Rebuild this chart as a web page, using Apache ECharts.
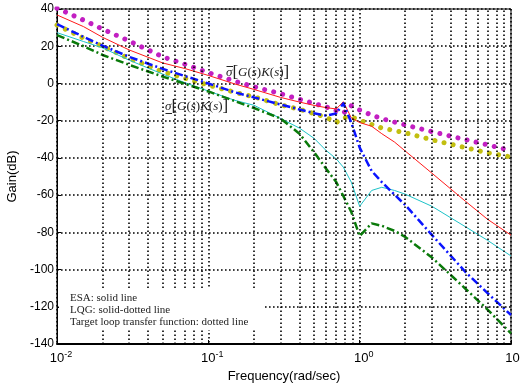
<!DOCTYPE html>
<html>
<head>
<meta charset="utf-8">
<script src="https://cdn.jsdelivr.net/npm/echarts@6/dist/echarts.min.js"></script>
<style>
  html, body { margin: 0; padding: 0; background: #fff; }
  #chart { width: 520px; height: 387px; }
</style>
</head>
<body>
<div id="chart"></div>
<script>
// Frequency points (rad/sec) shared by all singular-value curves
const freq = [0.01, 0.015, 0.02, 0.03, 0.05, 0.07, 0.1, 0.15, 0.2, 0.3, 0.4, 0.5, 0.6, 0.7, 0.78, 0.88, 1.0, 1.2, 1.4, 1.7, 2, 3, 5, 7, 10];

// ESA design: max / min singular values of G(s)K(s), dB
const esaUpper = [36.8, 30.5, 24.8, 18, 11, 8, 4.3, -0.3, -3.2, -7.5, -10, -11.8, -13, -13.7, -9.8, -18.5, -21, -23, -27, -31.5, -36.3, -48.2, -63.3, -73, -81.5];
const esaLower = [27.3, 22.5, 19.1, 12.5, 5, 0.4, -4.1, -9.1, -11.7, -18.8, -24, -29.5, -36, -40.5, -45, -53, -66, -57.5, -55.8, -57.5, -59.5, -66, -77, -84.3, -92.7];

// LQG design: max / min singular values, dB
const lqgUpper = [31.9, 25, 20.3, 14.3, 7.8, 4, 0, -4.8, -7.5, -11.3, -14, -16, -17.3, -16.2, -10.7, -21, -34.5, -47, -53, -59.8, -65.3, -81.4, -101.3, -112.7, -124.4];
const lqgLower = [26, 20, 15.3, 10, 3.7, -0.2, -4.3, -9.5, -13.2, -18.8, -27, -37, -45.8, -53, -60.5, -69, -82, -75.2, -76.5, -79.2, -82.5, -93.5, -110.3, -121.5, -134.3];

// Target loop transfer function: max / min singular values, dB
const targetUpper = [40.4, 34, 29.2, 22.8, 14.3, 10.3, 5.8, 1.2, -1.8, -5.5, -8.5, -10.8, -12.6, -14.6, -16, -12, -14.3, -17, -18.9, -20.8, -22.3, -25.9, -30.2, -33, -36.1];
const targetLower = [31.4, 24.3, 19.9, 13.4, 6.3, 2.8, -0.9, -4.8, -7.2, -11.5, -13.9, -16.2, -18.2, -21, -18.5, -18, -19.8, -22, -24, -25.3, -26.5, -30.3, -34.5, -37.3, -39.5];

// Axis ranges and minor log grid positions
const yTicks = { min: -140, max: 40, step: 20 };
const xRange = { min: 0.01, max: 10 };
const minorGrid = [0.02, 0.03, 0.04, 0.05, 0.06, 0.07, 0.08, 0.09,
                   0.2, 0.3, 0.4, 0.5, 0.6, 0.7, 0.8, 0.9,
                   2, 3, 4, 5, 6, 7, 8, 9];

const legendLines = ['ESA: solid line', 'LQG: solid-dotted line', 'Target loop transfer function: dotted line'];

const pairs = vals => freq.map((f, i) => [f, vals[i]]);

const dotted = { type: [1.6, 2.4], color: '#000', width: 1.6 };
const dashDot = [8, 3, 2, 3];
const dots = [0.01, 9.3];

const chart = echarts.init(document.getElementById('chart'), null, { renderer: 'canvas' });

function lineSeries(name, data, color, width, type, cap) {
  return {
    name, type: 'line', data: pairs(data), showSymbol: false, symbol: 'none',
    smooth: false, clip: true, silent: true, z: 3,
    lineStyle: { color, width, type, cap: cap || 'butt', join: 'round' }
  };
}

const annotationRich = {
  g: { fontFamily: 'Liberation Serif', fontStyle: 'italic', fontSize: 13, fill: '#222' },
  p: { fontFamily: 'Liberation Serif', fontSize: 13, fill: '#222' },
  k: { fontFamily: 'Liberation Serif', fontSize: 17, fill: '#222' }
};
const annotationText = '{g|σ}{k|[}{g|G}{p|(}{g|s}{p|)}{g|K}{p|(}{g|s}{p|)}{k|]}';

chart.setOption({
  animation: false,
  backgroundColor: '#fff',
  grid: {
    left: 57, right: 9, top: 9, bottom: 43,
    containLabel: false, outerBoundsMode: 'none',
    show: true, borderColor: '#000', borderWidth: 1, backgroundColor: 'transparent'
  },
  xAxis: {
    type: 'log', logBase: 10, min: xRange.min, max: xRange.max, interval: 1,
    name: 'Frequency(rad/sec)', nameLocation: 'middle', nameGap: 25,
    nameTextStyle: { fontFamily: 'Liberation Sans', fontSize: 13, color: '#000' },
    axisLine: { show: true, onZero: false, lineStyle: { color: '#000', width: 2 } },
    axisTick: { show: true, inside: true, length: 4, lineStyle: { color: '#000' } },
    splitLine: { show: true, lineStyle: dotted },
    axisLabel: {
      margin: 6, hideOverlap: false, showMinLabel: true, showMaxLabel: true,
      formatter: v => '{b|10}{s|' + Math.round(Math.log10(v)) + '}',
      rich: {
        b: { fontFamily: 'Liberation Sans', fontSize: 13, color: '#000', padding: [0, 0, 0, 8] },
        s: { fontFamily: 'Liberation Sans', fontSize: 9, color: '#000', padding: [0, 0, 8, 0] }
      }
    }
  },
  yAxis: {
    type: 'value', min: yTicks.min, max: yTicks.max, interval: yTicks.step,
    name: 'Gain(dB)', nameLocation: 'middle', nameGap: 37, nameRotate: 90,
    nameTextStyle: { fontFamily: 'Liberation Sans', fontSize: 13, color: '#000' },
    axisLine: { show: true, lineStyle: { color: '#000', width: 1 } },
    axisTick: { show: true, inside: true, length: 4, lineStyle: { color: '#000' } },
    splitLine: { show: true, lineStyle: dotted },
    axisLabel: { fontFamily: 'Liberation Sans', fontSize: 12, color: '#000', margin: 3 }
  },
  series: [
    {
      name: 'grid', type: 'line', data: [], silent: true, z: 1,
      markLine: {
        silent: true, symbol: 'none', animation: false,
        label: { show: false },
        lineStyle: dotted,
        data: minorGrid.map(v => ({ xAxis: v }))
      }
    },
    lineSeries('Target upper', targetUpper, '#c21fc2', 5, dots, 'round'),
    lineSeries('Target lower', targetLower, '#c2bf10', 5, dots, 'round'),
    lineSeries('ESA upper', esaUpper, '#ff1a1a', 1, 'solid'),
    lineSeries('ESA lower', esaLower, '#1ec3c8', 1, 'solid'),
    lineSeries('LQG upper', lqgUpper, '#0a14ff', 2.5, dashDot),
    lineSeries('LQG lower', lqgLower, '#0a7a0a', 2.5, dashDot)
  ],
  graphic: [
    // white panel behind the line-style notes
    { type: 'rect', z: 50, shape: { x: 59, y: 289, width: 204, height: 41 }, style: { fill: '#fff' }, silent: true },
    ...legendLines.map((t, i) => ({
      type: 'text', z: 51, x: 70, y: 298 + i * 12.2,
      style: { text: t, fontFamily: 'Liberation Serif', fontSize: 11, fill: '#222', verticalAlign: 'middle' }
    })),
    // maximum singular value annotation
    { type: 'text', z: 51, x: 226, y: 73, style: { text: annotationText, verticalAlign: 'middle', rich: annotationRich } },
    { type: 'line', z: 51, shape: { x1: 226.5, y1: 66.5, x2: 233, y2: 66.5 }, style: { stroke: '#222', lineWidth: 1 } },
    // minimum singular value annotation
    { type: 'text', z: 51, x: 165, y: 107, style: { text: annotationText, verticalAlign: 'middle', rich: annotationRich } },
    { type: 'line', z: 51, shape: { x1: 165.5, y1: 113.5, x2: 172, y2: 113.5 }, style: { stroke: '#222', lineWidth: 1 } }
  ]
});
</script>
</body>
</html>
